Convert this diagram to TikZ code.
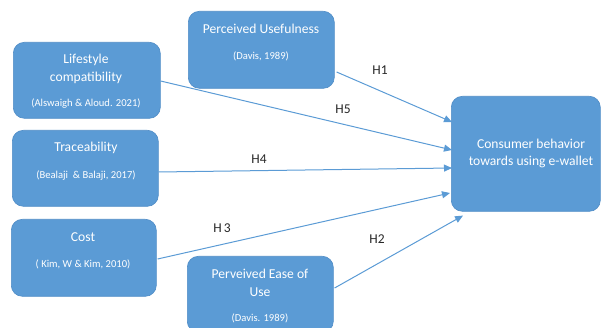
\documentclass[tikz,border=0pt]{standalone}
\usepackage{fontspec}
\setmainfont{Carlito}
\usetikzlibrary{arrows.meta,calc}
\definecolor{boxblue}{HTML}{5B9BD5}
\definecolor{boxedge}{HTML}{4F8CC6}
\definecolor{lineblue}{HTML}{5B9BD5}
\begin{document}
\begin{tikzpicture}[x=1pt,y=-1pt,
  box/.style={draw=boxedge, fill=boxblue, rounded corners=11pt, line width=0.6pt, inner sep=0pt, anchor=north west},
  ttl/.style={text=white, font=\fontsize{13.6}{16}\selectfont, inner sep=0pt},
  cit/.style={text=white, font=\fontsize{10.6}{12}\selectfont, inner sep=0pt},
  conn/.style={draw=lineblue, line width=1pt, -{Triangle[length=8pt,width=7pt]}},
  hyp/.style={text=black!85, font=\fontsize{13.5}{15}\selectfont, inner sep=0pt}]
\clip (0,0) rectangle (602,328);
\path[use as bounding box] (0,0) rectangle (602,328);
% boxes
\node[box, minimum width=146pt, minimum height=77pt] (pu) at (188,11) {};
\node[box, minimum width=147pt, minimum height=76pt] (lc) at (13,42) {};
\node[box, minimum width=146pt, minimum height=76pt] (tr) at (12,130) {};
\node[box, minimum width=145pt, minimum height=77pt] (co) at (11,219) {};
\node[box, minimum width=146pt, minimum height=76pt] (pe) at (187,256) {};
\node[box, minimum width=149pt, minimum height=115pt] (cb) at (451,96) {};
% texts
\node[ttl] (put) at (261,29) {Perceived Usefulness};
\node[cit] (puc) at (261,56) {(Davis, 1989)};
\node[ttl] (lct1) at (86,60) {Lifestyle};
\node[ttl] (lct2) at (86,78) {compatibility};
\node[cit] (lcc) at (86,104) {(Alswaigh \& Aloud. 2021)};
\node[ttl] (trt) at (86,148) {Traceability};
\node[cit] (trc) at (86,176) {(Bealaji\ \ \& Balaji, 2017)};
\node[ttl] (cot) at (83,237) {Cost};
\node[cit] (coc) at (83,264) {( Kim, W \& Kim, 2010)};
\node[ttl] (pet1) at (260,274) {Perveived Ease of};
\node[ttl] (pet2) at (260,292) {Use};
\node[cit] (pec) at (260,318) {(Davis. 1989)};
\node[ttl] (cbt1) at (531,144) {Consumer behavior};
\node[ttl] (cbt2) at (531,162) {towards using e-wallet};
% connector end points
\coordinate (h1s) at ($(pu.north east)+(2,61)$);
\coordinate (h1e) at ($(cb.north west)+(1,26)$);
\coordinate (h5s) at ($(lc.north east)+(0,39)$);
\coordinate (h5e) at ($(cb.north west)+(1,54)$);
\coordinate (h4s) at ($(tr.north east)+(0,42)$);
\coordinate (h4e) at ($(cb.north west)+(1,72)$);
\coordinate (h3s) at ($(co.north east)+(1,40)$);
\coordinate (h3e) at ($(cb.north west)+(-1,97)$);
\coordinate (h2s) at ($(pe.north east)+(1,32)$);
\coordinate (h2e) at ($(cb.south west)+(12,4)$);
\draw[conn] (h1s) -- (h1e);
\draw[conn] (h5s) -- (h5e);
\draw[conn] (h4s) -- (h4e);
\draw[conn] (h3s) -- (h3e);
\draw[conn] (h2s) -- (h2e);
% hypothesis labels
\node[hyp] (l1) at (380,70) {H1};
\node[hyp] (l5) at (343,109) {H5};
\node[hyp] (l4) at (259,159) {H4};
\node[hyp] (l3) at (222,228) {H\,3};
\node[hyp] (l2) at (377,239) {H2};
\end{tikzpicture}
\end{document}
